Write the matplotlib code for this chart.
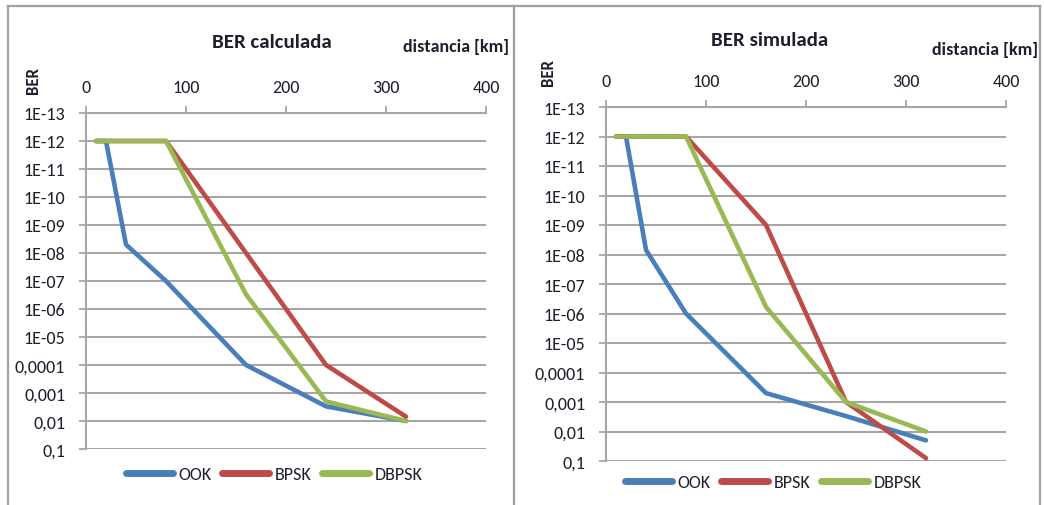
import matplotlib
matplotlib.use("Agg")
import matplotlib.pyplot as plt
from matplotlib.lines import Line2D

plt.rcParams['font.family'] = ['Carlito', 'Lato', 'DejaVu Sans']

# ---- data ----
distance_km = [10, 20, 40, 80, 160, 240, 320]
series_names = ["OOK", "BPSK", "DBPSK"]

ook_calc = [1e-12, 1e-12, 5e-9, 1e-7, 1e-4, 3e-3, 1e-2]
bpsk_calc = [1e-12, 1e-12, 1e-12, 1e-12, 1e-8, 1e-4, 7e-3]
dbpsk_calc = [1e-12, 1e-12, 1e-12, 1e-12, 3e-7, 2e-3, 1e-2]

ook_sim = [1e-12, 1e-12, 7e-9, 1e-6, 5e-4, 3e-3, 2e-2]
bpsk_sim = [1e-12, 1e-12, 1e-12, 1e-12, 1e-9, 1e-3, 8e-2]
dbpsk_sim = [1e-12, 1e-12, 1e-12, 1e-12, 6e-7, 1e-3, 1e-2]

x_ticks = [0, 100, 200, 300, 400]
y_tick_values = [1e-13, 1e-12, 1e-11, 1e-10, 1e-9, 1e-8, 1e-7, 1e-6, 1e-5,
                 1e-4, 1e-3, 1e-2, 1e-1]
y_tick_labels = ["1E-13", "1E-12", "1E-11", "1E-10", "1E-09", "1E-08", "1E-07",
                 "1E-06", "1E-05", "0,0001", "0,001", "0,01", "0,1"]

colors = ["#4A7EBB", "#BE4B48", "#98B954"]
text_color = "#1e1e2c"
grid_color = "#a6a6a6"

W, H = 1044, 506
fig = plt.figure(figsize=(W / 100, H / 100), dpi=100)


def px_axes(x0, x1, y0, y1):
    return fig.add_axes([x0 / W, 1 - y1 / H, (x1 - x0) / W, (y1 - y0) / H])


def draw_panel(ax, data, title, title_xy, dist_xy, ber_xy, leg_xy):
    for vals, c, name in zip(data, colors, series_names):
        ax.plot(distance_km, vals, color=c, lw=3.3, label=name,
                solid_joinstyle='round', solid_capstyle='round', clip_on=False)
    ax.set_yscale('log')
    ax.set_ylim(1e-1, 1e-13)
    ax.set_xlim(0, 400)
    ax.set_yticks(y_tick_values)
    ax.set_yticklabels(y_tick_labels)
    ax.minorticks_off()
    ax.set_xticks(x_ticks)
    ax.xaxis.tick_top()
    ax.tick_params(axis='both', colors=grid_color, labelcolor=text_color,
                   labelsize=13, length=5, width=1.3, direction='out')
    ax.tick_params(axis='x', pad=8)
    ax.tick_params(axis='y', pad=10)
    ax.grid(axis='y', color=grid_color, lw=1.5)
    ax.set_axisbelow(True)
    for s in ['right', 'bottom']:
        ax.spines[s].set_visible(False)
    for s in ['left', 'top']:
        ax.spines[s].set_color(grid_color)
        ax.spines[s].set_linewidth(1.5)
    ax.set_facecolor('none')
    fig.text(title_xy[0] / W, 1 - title_xy[1] / H, title, ha='center', va='center',
             fontsize=15, fontweight='bold', color=text_color)
    fig.text(dist_xy[0] / W, 1 - dist_xy[1] / H, "distancia [km]", ha='right',
             va='center', fontsize=13, fontweight='bold', color=text_color)
    fig.text(ber_xy[0] / W, 1 - ber_xy[1] / H, "BER", ha='center', va='center',
             rotation=90, fontsize=12, fontweight='bold', color=text_color)
    leg = ax.legend(loc='center', bbox_to_anchor=(leg_xy[0] / W, 1 - leg_xy[1] / H),
                    bbox_transform=fig.transFigure, ncol=3, frameon=False,
                    fontsize=13, handlelength=2.6, handletextpad=0.3,
                    columnspacing=0.6, borderaxespad=0)
    for t in leg.get_texts():
        t.set_color(text_color)
    for h in leg.get_lines():
        h.set_linewidth(5)
        h.set_solid_capstyle('round')


ax1 = px_axes(86, 486, 114, 450)
draw_panel(ax1, [ook_calc, bpsk_calc, dbpsk_calc], "BER calculada",
           (272, 43), (509, 47), (33, 80), (274, 475))

ax2 = px_axes(606, 1006, 108, 462)
draw_panel(ax2, [ook_sim, bpsk_sim, dbpsk_sim], "BER simulada",
           (770, 40), (1038, 50), (548, 72), (773, 483))

# outer chart frames
frame_kw = dict(color="#a0a0a0", lw=1.6, transform=fig.transFigure)
fig.add_artist(Line2D([8 / W, 1040 / W], [1 - 7 / H, 1 - 7 / H], **frame_kw))
fig.add_artist(Line2D([8 / W, 8 / W], [0, 1 - 7 / H], **frame_kw))
fig.add_artist(Line2D([514 / W, 514 / W], [0, 1 - 7 / H], **frame_kw))
fig.add_artist(Line2D([1040 / W, 1040 / W], [0, 1 - 7 / H], **frame_kw))

fig.savefig("out.png", dpi=100)
